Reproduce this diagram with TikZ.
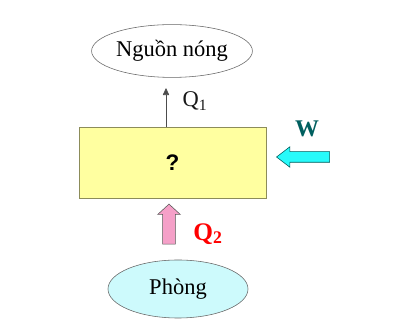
\documentclass[tikz,border=0pt]{standalone}
\usepackage{fontspec}
\setmainfont{Liberation Serif}
\newfontfamily\arialfont{Liberation Sans}
\usetikzlibrary{arrows.meta, positioning, shapes.geometric, shapes.arrows}
\definecolor{boxyellow}{RGB}{255,255,160}
\definecolor{boxedge}{RGB}{140,140,90}
\definecolor{roomcyan}{RGB}{205,250,252}
\definecolor{fatcyan}{RGB}{40,250,250}
\definecolor{fatpink}{RGB}{245,160,200}
\definecolor{wteal}{RGB}{0,95,95}
\begin{document}
\begin{tikzpicture}[x=0.025cm, y=-0.025cm,
    oval/.style={ellipse, draw=gray!80!black, inner sep=0pt, font=\fontsize{16}{18}\selectfont},
    fatarrow/.style={single arrow, single arrow head indent=0pt}]
  \useasboundingbox[fill=white] (0,0) rectangle (402,326);
  % reservoirs
  \node[oval, minimum width=4.02cm, minimum height=1.32cm] (hot) at (172,51) {Nguồn nóng};
  \node[oval, fill=roomcyan, minimum width=3.5cm, minimum height=1.45cm] (room) at (178,289) {Phòng};
  % machine
  \node[draw=boxedge, fill=boxyellow, minimum width=4.67cm, minimum height=1.77cm, font=\arialfont\bfseries\fontsize{16}{18}\selectfont] (box) at (172.5,162.5) {?};
  % heat to hot side
  \coordinate (q1tip) at (166,88);
  \draw[-{Triangle[length=5pt,width=4.5pt]}, gray!60!black, thin] (box.north -| q1tip) -- (q1tip);
  \node[font=\fontsize{16}{18}\selectfont, gray!20!black] (q1) at (195,101) {Q\textsubscript{1}};
  % work in
  \node[fatarrow, draw=teal!70!black, fill=fatcyan, shape border rotate=180, inner sep=0.125cm, minimum height=1.325cm, minimum width=0.5cm, single arrow head extend=0.125cm, single arrow tip angle=75] (warrow) at (306.5,157) {};
  \node[font=\bfseries\fontsize{17}{19}\selectfont, wteal] (w) at (307,129) {W};
  % heat from room
  \node[fatarrow, draw=gray!70!black, fill=fatpink, shape border rotate=90, inner sep=0.15cm, minimum height=1cm, minimum width=0.55cm, single arrow head extend=0.125cm, single arrow tip angle=95] (qarrow) at (169,227) {};
  \node[font=\bfseries\fontsize{18}{20}\selectfont, red] (q2) at (208,234) {Q\textsubscript{2}};
\end{tikzpicture}
\end{document}
